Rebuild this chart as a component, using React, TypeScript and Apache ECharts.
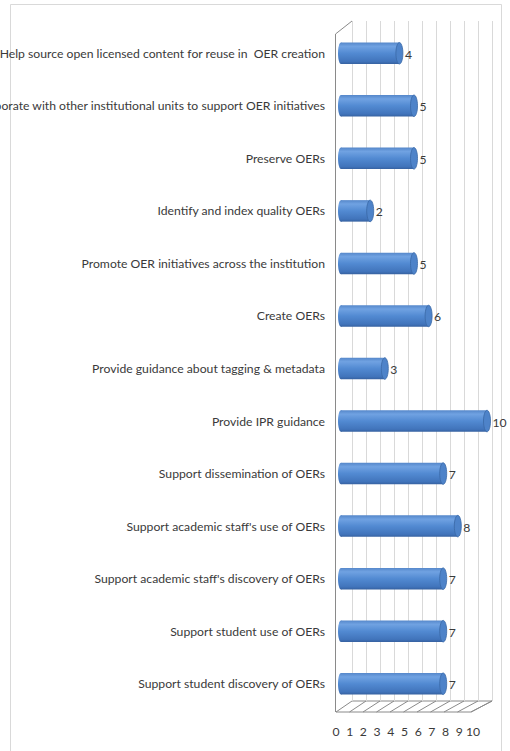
import React, { useEffect, useRef } from "react";
import * as echarts from "echarts";

const categories = [
  "Help source open licensed content for reuse in  OER creation",
  "Collaborate with other institutional units to support OER initiatives",
  "Preserve OERs",
  "Identify and index quality OERs",
  "Promote OER initiatives across the institution",
  "Create OERs",
  "Provide guidance about tagging & metadata",
  "Provide IPR guidance",
  "Support dissemination of OERs",
  "Support academic staff's use of OERs",
  "Support academic staff's discovery of OERs",
  "Support student use of OERs",
  "Support student discovery of OERs",
];
const values = [4, 5, 5, 2, 5, 6, 3, 10, 7, 8, 7, 7, 7];
const axisMin = 0;
const axisMax = 10;
const axisInterval = 1;

const FONT = "Lato, 'Open Sans', sans-serif";
const TEXT = "#3a3a3a";

export default function App() {
  const ref = useRef<HTMLDivElement>(null);
  useEffect(() => {
    const chart = echarts.init(ref.current!, null, { renderer: "svg" });
    const bodyGrad = new echarts.graphic.LinearGradient(0, 0, 0, 1, [
      { offset: 0, color: "#5587ca" },
      { offset: 0.18, color: "#70a2e2" },
      { offset: 0.5, color: "#528ad2" },
      { offset: 0.88, color: "#4174bb" },
      { offset: 1, color: "#3661a0" },
    ]);
    const frontY = 712, backY = 701;
    const fL = 336, fR = 471, bL = 352, bR = 492;
    const floorLines: any[] = [];
    for (let k = 0; k <= 10; k++) {
      floorLines.push({
        type: "line",
        shape: { x1: fL + ((fR - fL) * k) / 10, y1: frontY, x2: bL + ((bR - bL) * k) / 10, y2: backY },
        style: { stroke: "#8a8a8a", lineWidth: 1 },
        silent: true,
      });
    }
    const gridBase = { containLabel: false, outerBoundsMode: "none" };
    chart.setOption({
      animation: false,
      backgroundColor: "#ffffff",
      grid: [
        { ...gridBase, left: bL, top: 21, width: bR - bL, height: backY - 21 },
        { ...gridBase, left: 341, top: 27, width: 146, height: 683 },
        { ...gridBase, left: fL, top: 21, width: 137, height: frontY - 21 },
      ],
      xAxis: [
        {
          gridIndex: 0, type: "value", min: axisMin, max: axisMax, interval: axisInterval,
          axisLine: { show: false }, axisTick: { show: false }, axisLabel: { show: false },
          splitLine: { show: true, lineStyle: { color: "#d9d9d9", width: 1 } },
        },
        {
          gridIndex: 1, type: "value", min: axisMin, max: axisMax, interval: axisInterval,
          show: false, splitLine: { show: false },
        },
        {
          gridIndex: 2, type: "value", min: axisMin, max: axisMax, interval: axisInterval,
          axisLine: { show: false }, axisTick: { show: false }, splitLine: { show: false },
          axisLabel: { show: true, margin: 13, color: TEXT, fontSize: 12.2, fontFamily: FONT },
        },
      ],
      yAxis: [
        { gridIndex: 0, type: "category", data: categories, inverse: true, show: false },
        {
          gridIndex: 1, type: "category", data: categories, inverse: true,
          axisLine: { show: false }, axisTick: { show: false }, splitLine: { show: false },
          axisLabel: { show: true, margin: 16, color: TEXT, fontSize: 12.2, fontFamily: FONT, interval: 0, hideOverlap: false },
        },
        { gridIndex: 2, type: "category", data: categories, inverse: true, show: false },
      ],
      graphic: [
        { type: "rect", shape: { x: 10.5, y: 4.5, width: 491, height: 780 }, style: { fill: "none", stroke: "#d9d9d9", lineWidth: 1 }, silent: true, z: -10 },
        { type: "line", shape: { x1: 335.5, y1: 34, x2: 352, y2: 21 }, style: { stroke: "#8a8a8a", lineWidth: 1 }, silent: true },
        { type: "line", shape: { x1: 335.5, y1: 34, x2: 335.5, y2: frontY }, style: { stroke: "#8a8a8a", lineWidth: 1 }, silent: true },
        { type: "polyline", shape: { points: [[fL, frontY], [fR, frontY], [bR, backY], [bL, backY]] }, style: { fill: "none", stroke: "#8a8a8a", lineWidth: 1 }, silent: true },
        ...floorLines,
      ],
      series: [
        {
          type: "custom",
          xAxisIndex: 1,
          yAxisIndex: 1,
          data: values.map((v, i) => [v, i]),
          renderItem: (params: any, api: any) => {
            const v = api.value(0);
            const idx = api.value(1);
            const s = api.coord([0, idx]);
            const e = api.coord([v, idx]);
            const h = 21.5;
            return {
              type: "group",
              children: [
                { type: "ellipse", shape: { cx: s[0], cy: s[1], rx: 3, ry: h / 2 }, style: { fill: bodyGrad } },
                { type: "rect", shape: { x: s[0], y: s[1] - h / 2, width: e[0] - s[0], height: h }, style: { fill: bodyGrad } },
                { type: "ellipse", shape: { cx: e[0], cy: e[1], rx: 3.5, ry: h / 2 }, style: { fill: "#4e83c9", stroke: "#3a68a6", lineWidth: 0.8 } },
                {
                  type: "text", x: e[0] + 5.5, y: e[1] + 1,
                  style: { text: String(v), fill: TEXT, fontSize: 12.2, fontFamily: FONT, align: "left", verticalAlign: "middle" },
                },
              ],
            };
          },
        },
      ],
    });
    return () => chart.dispose();
  }, []);
  return <div ref={ref} style={{ position: "fixed", left: 0, top: 0, width: 510, height: 751 }} />;
}
